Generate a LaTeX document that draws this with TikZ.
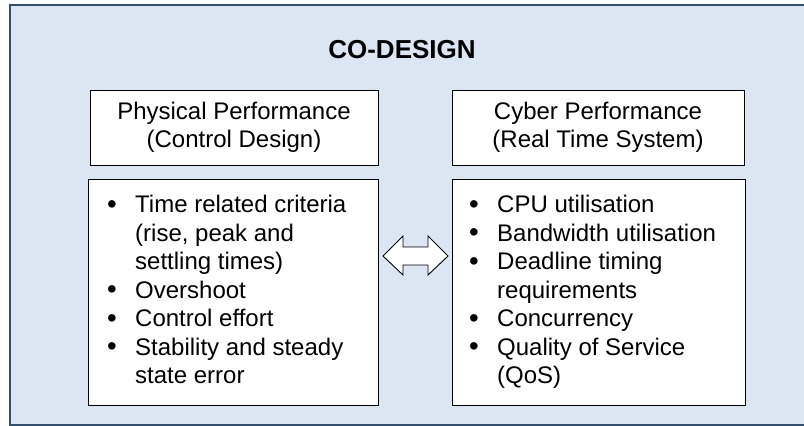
\documentclass[tikz,border=0pt]{standalone}
\usepackage{fontspec}
\setmainfont{Liberation Sans}
\definecolor{panelfill}{HTML}{DCE6F2}
\definecolor{panelline}{HTML}{34506F}
\begin{document}
\begin{tikzpicture}[x=1pt,y=-1pt,
  panel/.style={draw=panelline,line width=2.2pt,fill=panelfill},
  whitebox/.style={draw=black,line width=1pt,fill=white},
  bodytext/.style={font=\fontsize{24}{28.5}\selectfont,inner sep=0pt},
  listtext/.style={bodytext,align=left,anchor=north west},
  headtext/.style={bodytext,align=center},
  blockarrow/.style={draw=black,line width=0.9pt,fill=white,line join=miter}]
\useasboundingbox (0,0) rectangle (804,426);
\begin{scope}
  \clip (0,0) rectangle (804,426);
  % outer panel (runs past the right edge)
  \draw[panel] (10,5) rectangle (808,425);
\end{scope}
\node[font=\fontsize{26}{30}\selectfont\bfseries] (title) at (402,50) {CO-DESIGN};

% header boxes
\draw[whitebox] (90,90) rectangle (378,165);
\draw[whitebox] (452,90) rectangle (744,165);
\coordinate (lhc) at (234,127.5);
\coordinate (rhc) at (598,127.5);
\node[headtext] (lhead) at (lhc) {Physical Performance\\(Control Design)};
\node[headtext] (rhead) at (rhc) {Cyber Performance\\(Real Time System)};

% list boxes
\draw[whitebox] (88,179) rectangle (378,405);
\draw[whitebox] (452,179) rectangle (745,405);
\newcommand{\itm}{\makebox[28pt][l]{\raisebox{-0.5pt}{\scalebox{1.15}{\textbullet}}}}
\newcommand{\cnt}{\hspace*{28pt}}
\node[listtext] (llist) at (107,195) {%
\itm Time related criteria\\
\cnt(rise, peak and\\
\cnt settling times)\\
\itm Overshoot\\
\itm Control effort\\
\itm Stability and steady\\
\cnt state error};
\node[listtext] (rlist) at (469,195) {%
\itm CPU utilisation\\
\itm Bandwidth utilisation\\
\itm Deadline timing\\
\cnt requirements\\
\itm Concurrency\\
\itm Quality of Service\\
\cnt(QoS)};

% two-way block arrow between the lists
\draw[blockarrow] (383,256) -- (403,236) -- (403,247) -- (428,247) -- (428,236)
  -- (448,256) -- (428,275) -- (428,265) -- (403,265) -- (403,275) -- cycle;
\end{tikzpicture}
\end{document}
